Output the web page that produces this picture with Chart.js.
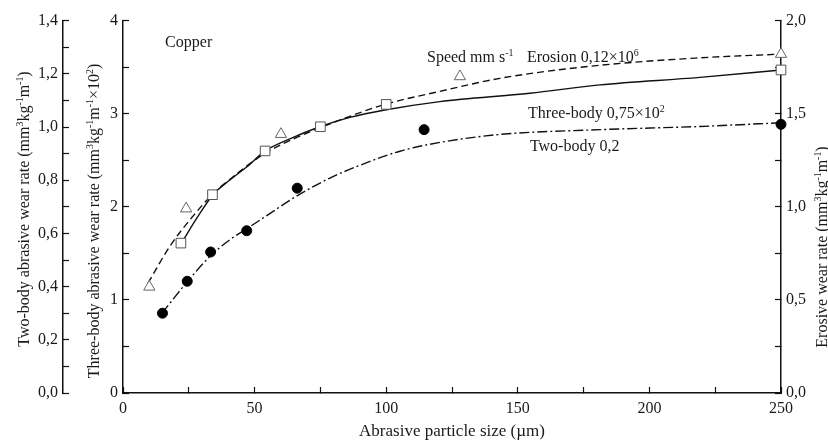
<!DOCTYPE html>
<html>
<head>
<meta charset="utf-8">
<script src="https://cdn.jsdelivr.net/npm/chart.js@4.4.0/dist/chart.umd.min.js"></script>
<style>
html, body { margin:0; padding:0; background:#fff; }
</style>
</head>
<body>
<canvas id="myChart" width="828" height="443"></canvas>
<script>
// erosion (right axis) - triangles + dashed fit
const eroX = [10, 24, 60, 128, 250]
const eroY = [0.57, 0.99, 1.39, 1.70, 1.82]
const eroFitX = [9.5, 17.9, 26.6, 34.2, 42.6, 53.2, 67.2, 81.3, 99.5, 120.4, 143.2, 181.2, 219.2, 250]
const eroFitY = [0.59, 0.79, 0.95, 1.07, 1.17, 1.28, 1.38, 1.46, 1.55, 1.62, 1.69, 1.76, 1.80, 1.82]

// three-body (inner left axis) - squares + solid fit
const threeX = [22, 34, 54, 75, 100, 250]
const threeY = [1.61, 2.13, 2.60, 2.86, 3.10, 3.47]
const threeFitX = [22.4, 28.1, 34.2, 40.7, 47.1, 54.0, 63.4, 74.8, 86.2, 99.5, 120.4, 154.6, 181.2, 219.2, 250]
const threeFitY = [1.62, 1.88, 2.13, 2.29, 2.43, 2.60, 2.73, 2.86, 2.96, 3.04, 3.13, 3.22, 3.31, 3.39, 3.47]

// two-body (outer left axis) - dots + dash-dot fit
const twoX = [15, 24.4, 33.3, 47, 66.2, 114.4, 250]
const twoY = [0.30, 0.42, 0.53, 0.61, 0.77, 0.99, 1.01]
const twoFitX = [14.8, 24.3, 33.1, 40.7, 47.1, 54.0, 66.1, 78.6, 90.0, 105.2, 120.4, 143.2, 181.2, 219.2, 250]
const twoFitY = [0.30, 0.417, 0.514, 0.577, 0.618, 0.663, 0.741, 0.808, 0.856, 0.909, 0.942, 0.972, 0.990, 1.002, 1.016]

const FONT = '"Liberation Serif", "Times New Roman", serif'
const INK = '#1a1a1a'

const pts = (xs, ys) => xs.map((x, i) => ({x: x, y: ys[i]}))
const comma = (v, d) => v.toFixed(d).replace('.', ',')

// rich text: [text, sup]
const twoTitle = [['Two-body abrasive wear rate (mm'], ['3', 1], ['kg'], ['-1', 1], ['m'], ['-1', 1], [')']]
const threeTitle = [['Three-body abrasive wear rate (mm'], ['3', 1], ['kg'], ['-1', 1], ['m'], ['-1', 1], ['\u00d710'], ['2', 1], [')']]
const eroTitle = [['Erosive wear rate (mm'], ['3', 1], ['kg'], ['-1', 1], ['m'], ['-1', 1], [')']]

const notes = [
    {parts: [['Copper']], x: 16, y: 1.86},
    {parts: [['Speed mm s'], ['-1', 1]], x: 115.5, y: 1.777},
    {parts: [['Erosion 0,12\u00d710'], ['6', 1]], x: 153.5, y: 1.777},
    {parts: [['Three-body 0,75\u00d710'], ['2', 1]], x: 153.9, y: 1.479},
    {parts: [['Two-body 0,2']], x: 154.6, y: 1.298},
]

function richWidth(ctx, parts, size) {
    let w = 0
    parts.forEach(p => {
        ctx.font = (p[1] ? size * 0.62 : size) + 'px ' + FONT
        w += ctx.measureText(p[0]).width
    })
    return w
}

function drawRich(ctx, parts, x, y, size) {
    ctx.textBaseline = 'alphabetic'
    ctx.textAlign = 'left'
    parts.forEach(p => {
        const sup = p[1]
        ctx.font = (sup ? size * 0.62 : size) + 'px ' + FONT
        ctx.fillText(p[0], x, sup ? y - size * 0.38 : y)
        x += ctx.measureText(p[0]).width
    })
}

function vtitle(ctx, parts, bx, cy, size) {
    ctx.save()
    ctx.translate(bx, cy)
    ctx.rotate(-Math.PI / 2)
    const w = richWidth(ctx, parts, size)
    drawRich(ctx, parts, -w / 2, 0, size)
    ctx.restore()
}

const textPlugin = {
    id: 'texts',
    afterDraw(chart) {
        const ctx = chart.ctx
        const sx = chart.scales.x
        const se = chart.scales.yEro
        ctx.save()
        ctx.fillStyle = INK
        vtitle(ctx, twoTitle, 29, 209, 16)
        vtitle(ctx, threeTitle, 99, 221, 16)
        vtitle(ctx, eroTitle, 827, 247, 16)
        notes.forEach(n => drawRich(ctx, n.parts, sx.getPixelForValue(n.x), se.getPixelForValue(n.y), 16))
        ctx.restore()
    }
}

const tickFont = {family: FONT, size: 16}
const axisGrid = {drawOnChartArea: false, drawTicks: true, tickLength: -6, tickColor: '#111', tickWidth: 1.2}
const axisBorder = {display: true, color: '#111', width: 1.5}

const data = {
    datasets: [
        {
            label: 'ero pts', data: pts(eroX, eroY), yAxisID: 'yEro', order: 0, clip: false,
            pointStyle: 'triangle', pointRadius: 6.5, backgroundColor: '#fff', borderColor: '#666', borderWidth: 1,
        },
        {
            label: 'three pts', data: pts(threeX, threeY), yAxisID: 'yThree', order: 0, clip: false,
            pointStyle: 'rect', pointRadius: 6.8, backgroundColor: '#fff', borderColor: '#555', borderWidth: 1,
        },
        {
            label: 'two pts', data: pts(twoX, twoY), yAxisID: 'yTwo', order: 0, clip: false,
            pointStyle: 'circle', pointRadius: 5, backgroundColor: '#000', borderColor: '#000', borderWidth: 1,
        },
        {
            label: 'ero fit', data: pts(eroFitX, eroFitY), yAxisID: 'yEro', order: 1, clip: false,
            showLine: true, pointRadius: 0, borderColor: '#111', borderWidth: 1.4, borderDash: [7, 4],
            cubicInterpolationMode: 'monotone',
        },
        {
            label: 'three fit', data: pts(threeFitX, threeFitY), yAxisID: 'yThree', order: 1, clip: false,
            showLine: true, pointRadius: 0, borderColor: '#111', borderWidth: 1.4,
            cubicInterpolationMode: 'monotone',
        },
        {
            label: 'two fit', data: pts(twoFitX, twoFitY), yAxisID: 'yTwo', order: 1, clip: false,
            showLine: true, pointRadius: 0, borderColor: '#111', borderWidth: 1.4, borderDash: [10, 3, 2, 3],
            cubicInterpolationMode: 'monotone',
        },
    ],
}

const config = {
    type: 'scatter',
    data: data,
    options: {
        responsive: false,
        animation: false,
        layout: {padding: {top: 17, left: 0, right: 0, bottom: 0}},
        plugins: {legend: {display: false}, tooltip: {enabled: false}},
        scales: {
            x: {
                type: 'linear', position: 'bottom', min: 0, max: 250,
                grid: axisGrid, border: axisBorder,
                ticks: {stepSize: 25, padding: 12, color: INK, font: tickFont, maxRotation: 0, autoSkip: false,
                    callback: v => v % 50 === 0 ? String(v) : ''},
                title: {display: true, text: 'Abrasive particle size (\u00b5m)', color: INK,
                    font: {family: FONT, size: 17}, padding: {top: 0, bottom: 1}},
                afterFit: s => { s.height = 50 },
            },
            yTwo: {
                type: 'linear', position: 'left', weight: 2, min: 0, max: 1.4,
                grid: axisGrid, border: axisBorder,
                ticks: {stepSize: 0.1, padding: 11, color: INK, font: tickFont, autoSkip: false,
                    callback: v => Math.round(v * 10) % 2 === 0 ? comma(v, 1) : ''},
                afterFit: s => { s.width = 63 },
            },
            yThree: {
                type: 'linear', position: 'left', weight: 1, min: 0, max: 4,
                grid: axisGrid, border: axisBorder,
                ticks: {stepSize: 0.5, padding: 11, color: INK, font: tickFont, autoSkip: false,
                    callback: v => Math.round(v * 2) % 2 === 0 ? String(Math.round(v)) : ''},
                afterFit: s => { s.width = 60 },
            },
            yEro: {
                type: 'linear', position: 'right', min: 0, max: 2,
                grid: axisGrid, border: axisBorder,
                ticks: {stepSize: 0.25, padding: 11, color: INK, font: tickFont, autoSkip: false,
                    callback: v => Math.round(v * 4) % 2 === 0 ? comma(v, 1) : ''},
                afterFit: s => { s.width = 47 },
            },
        },
    },
    plugins: [textPlugin],
}

const ctx = document.getElementById('myChart').getContext('2d')
const wearChart = new Chart(ctx, config)
</script>
</body>
</html>
